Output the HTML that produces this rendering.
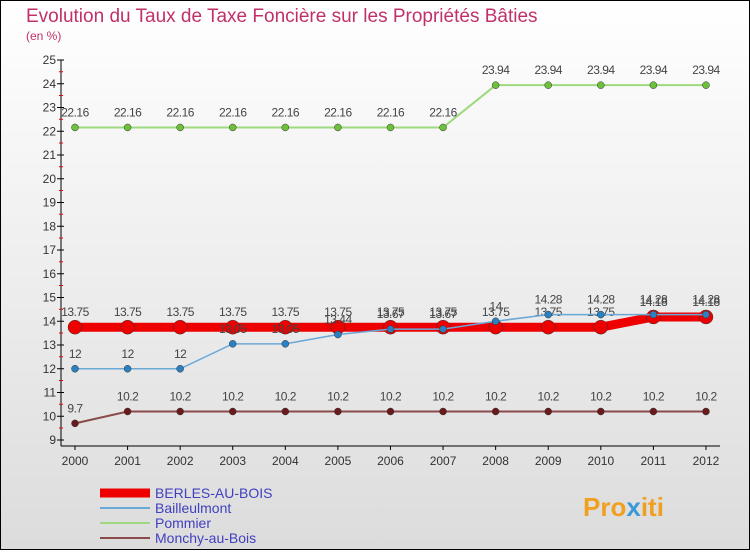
<!DOCTYPE html>
<html><head><meta charset="utf-8"><style>
body{margin:0;width:750px;height:550px;overflow:hidden;font-family:"Liberation Sans",sans-serif}
</style></head><body>
<svg id="c" width="750" height="550" xmlns="http://www.w3.org/2000/svg">
<defs><linearGradient id="bg" x1="0" y1="0" x2="0" y2="1"><stop offset="0" stop-color="#ffffff"/><stop offset="1" stop-color="#dcdcdc"/></linearGradient></defs>
<rect x="0.5" y="0.5" width="749" height="549" fill="url(#bg)" stroke="#000"/>
<text x="26" y="22" font-size="19" fill="#c0306a">Evolution du Taux de Taxe Foncière sur les Propriétés Bâties</text>
<text x="26" y="40" font-size="12" fill="#c0306a">(en %)</text>
<g id="axes"></g><g id="series"></g><g id="legend"></g>
<text x="583" y="516" font-size="26" font-weight="bold" fill="#f0a020">Pro<tspan fill="#3a9ad9">x</tspan>iti</text>
</svg>
<script>
const years=[2000,2001,2002,2003,2004,2005,2006,2007,2008,2009,2010,2011,2012];
const berles=[13.75,13.75,13.75,13.75,13.75,13.75,13.75,13.75,13.75,13.75,13.75,14.18,14.18];
const bailleulmont=[12,12,12,13.05,13.05,13.44,13.67,13.67,14,14.28,14.28,14.28,14.28];
const pommier=[22.16,22.16,22.16,22.16,22.16,22.16,22.16,22.16,23.94,23.94,23.94,23.94,23.94];
const monchy=[9.7,10.2,10.2,10.2,10.2,10.2,10.2,10.2,10.2,10.2,10.2,10.2,10.2];
const yTicks=[9,10,11,12,13,14,15,16,17,18,19,20,21,22,23,24,25];
const NS="http://www.w3.org/2000/svg";
const xs=i=>75+i*52.58, ys=v=>440-(v-9)*23.75;
function mk(t,a,p){const e=document.createElementNS(NS,t);for(const k in a)e.setAttribute(k,a[k]);p.appendChild(e);return e;}
const ax=document.getElementById('axes');
let l=mk('line',{x1:61,y1:60,x2:61,y2:446,stroke:'#000'},ax);


l=mk('line',{x1:61,y1:446,x2:720,y2:446,stroke:'#000'},ax);


yTicks.forEach(v=>{const y=ys(v);
mk('line',{x1:57,y1:y,x2:64,y2:y,stroke:'#000'},ax);
if(v<25)mk('line',{x1:59,y1:y-12,x2:63,y2:y-12,stroke:'#e00'},ax);
const t=mk('text',{x:56,y:y+4,'font-size':12,'text-anchor':'end',fill:'#333'},ax);t.textContent=v;

});
years.forEach((yr,i)=>{const x=xs(i);mk('line',{x1:x,y1:446,x2:x,y2:450,stroke:'#000'},ax);
const t=mk('text',{x:x,y:465,'font-size':12,'text-anchor':'middle',fill:'#333'},ax);t.textContent=yr;

});
const sg=document.getElementById('series');
const defs=[[monchy,'#8a4a4a','#6a1a1a',2,3.5,'monchy'],[pommier,'#9fd87f','#6cc03a',2,3.5,'pommier'],[berles,'#ee0000','#ee0000',9,7,'berles'],[bailleulmont,'#6aa8d8','#2a80c0',1.5,3.5,'bailleulmont']];
defs.forEach(([d,lc,pc,w,r,n])=>{
const p=mk('polyline',{points:d.map((v,i)=>xs(i)+','+ys(v)).join(' '),fill:'none',stroke:lc,'stroke-width':w},sg);


d.forEach((v,i)=>{const c=mk('circle',{cx:xs(i),cy:ys(v),r:r,fill:pc,stroke:'#333','stroke-width':0.5},sg);


const t=mk('text',{x:xs(i),y:ys(v)-11,'font-size':12,'text-anchor':'middle',fill:'#444','letter-spacing':'-0.5'},sg);t.textContent=v;

});});
const lg=document.getElementById('legend');
[['BERLES-AU-BOIS','#ee0000',9],['Bailleulmont','#6aa8d8',2],['Pommier','#9fd87f',2],['Monchy-au-Bois','#8a4a4a',2]].forEach(([n,c,w],i)=>{
const y=493+i*15;
const ln=mk('line',{x1:100,y1:y,x2:150,y2:y,stroke:c,'stroke-width':w},lg);


const t=mk('text',{x:155,y:y+5,'font-size':14,fill:'#4040c0'},lg);t.textContent=n;

});
</script>
</body></html>
